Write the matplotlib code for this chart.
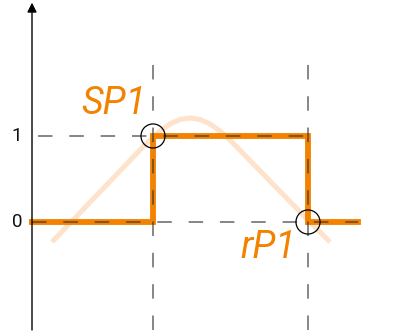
import matplotlib
matplotlib.use('Agg')
import matplotlib.pyplot as plt

# switching signal (step) and the process value curve
# x = time (arbitrary units), y = level
step_t = [0, 121, 121, 276, 276, 326]
step_y = [0, 0, 1, 1, 0, 0]

curve_t = [20, 108, 118, 128, 138, 148, 158, 168, 178, 188, 198, 276, 298]
curve_y = [-0.233, 0.837, 0.953, 1.058, 1.140, 1.192, 1.209, 1.192, 1.140, 1.058, 0.953, 0.023, -0.233]

switch_t = [121, 276]
switch_y = [1, 0]
switch_labels = ['SP1', 'rP1']
level_ticks = [0, 1]

orange = '#f28200'
peach = '#fde2cc'
dash = (0, (9.5, 11))

fig = plt.figure(figsize=(3.95, 3.32), dpi=100)
ax = fig.add_axes([0, 0, 1, 1])
ax.set_xlim(-32, 363)
ax.set_ylim(-1.279, 2.581)
ax.axis('off')

ax.plot(curve_t, curve_y, color=peach, lw=3.6, solid_capstyle='butt', zorder=1)
ax.plot(step_t, step_y, color=orange, lw=4.2, solid_joinstyle='miter', zorder=2)

# dashed guide lines
for t in switch_t:
    ax.plot([t, t], [-1.256, 1.907], color='#333333', alpha=0.75, lw=1.1, linestyle=dash, zorder=3)
ax.plot([6, 276], [1, 1], color='#333333', alpha=0.75, lw=1.1, linestyle=dash, zorder=3)
ax.plot([0, 326], [0, 0], color='#333333', alpha=0.75, lw=1.1, linestyle=dash, zorder=3)

# switching points
ax.scatter(switch_t, switch_y, s=300, facecolors='none', edgecolors='black', linewidths=0.9, zorder=4)

# axes with arrows
ax.annotate('', xy=(0, 2.55), xytext=(0, -1.256),
            arrowprops=dict(arrowstyle='-|>', color='black', lw=1, mutation_scale=14, shrinkA=0, shrinkB=0))
ax.annotate('', xy=(372, -1.256), xytext=(0, -1.256),
            arrowprops=dict(arrowstyle='-|>', color='black', lw=1, mutation_scale=14, shrinkA=0, shrinkB=0))

for lv in level_ticks:
    ax.text(-15, lv, str(lv), ha='center', va='center', fontsize=13.5, color='#111111',
            family=['Roboto', 'DejaVu Sans'])

# seven segment style labels
ax.text(82, 1.372, switch_labels[0], ha='center', va='center', fontsize=27, color=orange,
        style='italic', family=['Roboto', 'DejaVu Sans'])
ax.text(236, -0.302, switch_labels[1], ha='center', va='center', fontsize=27, color=orange,
        style='italic', family=['Roboto', 'DejaVu Sans'])

fig.savefig('out.png', dpi=100)
